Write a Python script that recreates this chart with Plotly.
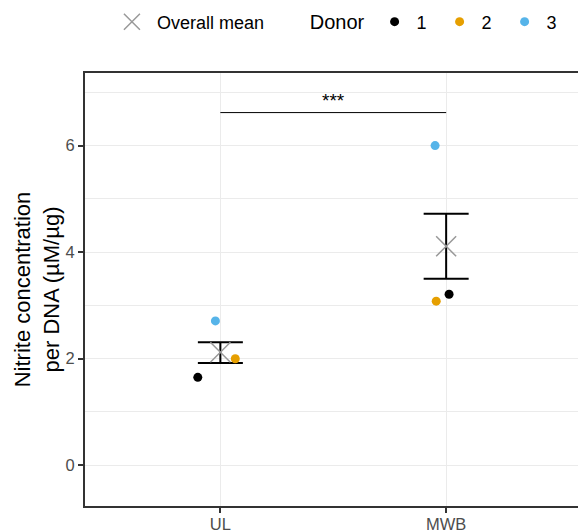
import plotly.graph_objects as go

categories = ["UL", "MWB"]
donors = ["1", "2", "3"]
donor_colors = ["#000000", "#E69F00", "#56B4E9"]
# values per donor: [UL, MWB]
donor_values = {
    "1": [1.65, 3.21],
    "2": [2.00, 3.08],
    "3": [2.71, 6.00],
}
# horizontal jitter (category units)
donor_jitter = {
    "1": [-0.10, 0.013],
    "2": [0.066, -0.044],
    "3": [-0.022, -0.049],
}
mean_values = [2.12, 4.11]
err_upper = [2.31, 4.72]
err_lower = [1.92, 3.50]
sig_y = 6.62
sig_label = "***"
y_ticks = [0, 2, 4, 6]

FONT = "Liberation Sans, Arial, sans-serif"
fig = go.Figure()

xpos = list(range(len(categories)))

# error bars
fig.add_trace(go.Scatter(
    x=xpos, y=mean_values, mode="markers",
    marker=dict(size=0.1, color="rgba(0,0,0,0)"),
    error_y=dict(type="data", symmetric=False,
                 array=[u - m for u, m in zip(err_upper, mean_values)],
                 arrayminus=[m - l for l, m in zip(err_lower, mean_values)],
                 color="black", thickness=2, width=22.5),
    showlegend=False, hoverinfo="skip"))

# mean X
fig.add_trace(go.Scatter(
    x=xpos, y=mean_values, mode="markers", name="Overall mean",
    marker=dict(symbol="x-thin", size=20, line=dict(width=1.5, color="#999999"), color="#999999"),
    legend="legend"))

for d, c in zip(donors, donor_colors):
    fig.add_trace(go.Scatter(
        x=[i + j for i, j in zip(xpos, donor_jitter[d])], y=donor_values[d],
        mode="markers", name=d, marker=dict(size=9, color=c),
        legend="legend2"))

# significance bar
fig.add_shape(type="line", x0=xpos[0], x1=xpos[1], y0=sig_y, y1=sig_y,
              xref="x", yref="y", line=dict(color="black", width=1))
fig.add_annotation(x=(xpos[0] + xpos[1]) / 2, y=sig_y, text=sig_label, showarrow=False,
                   yanchor="bottom", yshift=0, font=dict(size=19, color="black", family=FONT))

fig.update_layout(
    width=578, height=531,
    margin=dict(l=85, r=0, t=73, b=25, autoexpand=False),
    plot_bgcolor="white", paper_bgcolor="white",
    font=dict(family=FONT, color="black"),
    xaxis=dict(range=[-0.5996, 1.584], tickvals=xpos, ticktext=categories,
               showgrid=True, gridcolor="#ebebeb", gridwidth=1.2, zeroline=False,
               showline=True, linecolor="#333333", linewidth=2, mirror=True,
               ticks="outside", ticklen=5, tickcolor="#333333", tickwidth=1.5,
               ticklabelstandoff=-3,
               tickfont=dict(size=16.5, color="#4d4d4d"), automargin=False),
    yaxis=dict(range=[-0.765, 7.363], tickvals=y_ticks,
               showgrid=True, gridcolor="#ebebeb", gridwidth=1.2, zeroline=False,
               minor=dict(dtick=1, tick0=1, showgrid=True, gridcolor="#ebebeb", gridwidth=0.8),
               showline=True, linecolor="#333333", linewidth=2, mirror=False,
               ticks="outside", ticklen=5, tickcolor="#333333", tickwidth=1.5,
               tickfont=dict(size=16.5, color="#4d4d4d"), automargin=False,
               title=dict(text="Nitrite concentration<br>per DNA (µM/µg)",
                          font=dict(size=22, color="black"), standoff=0)),
    legend=dict(orientation="h", x=0.185, y=0.9586, xref="container", yref="container",
                xanchor="left", yanchor="middle", itemwidth=40,
                font=dict(size=18), bgcolor="rgba(0,0,0,0)"),
    legend2=dict(orientation="h", x=0.5325, y=0.9586, xref="container", yref="container",
                 xanchor="left", yanchor="middle", itemwidth=34,
                 title=dict(text="Donor", font=dict(size=20), side="left"),
                 font=dict(size=18), bgcolor="rgba(0,0,0,0)",
                 entrywidth=16, entrywidthmode="pixels"),
)

fig.write_html("out.html", config={"displayModeBar": False},
               post_script="document.body.style.margin='0';")
